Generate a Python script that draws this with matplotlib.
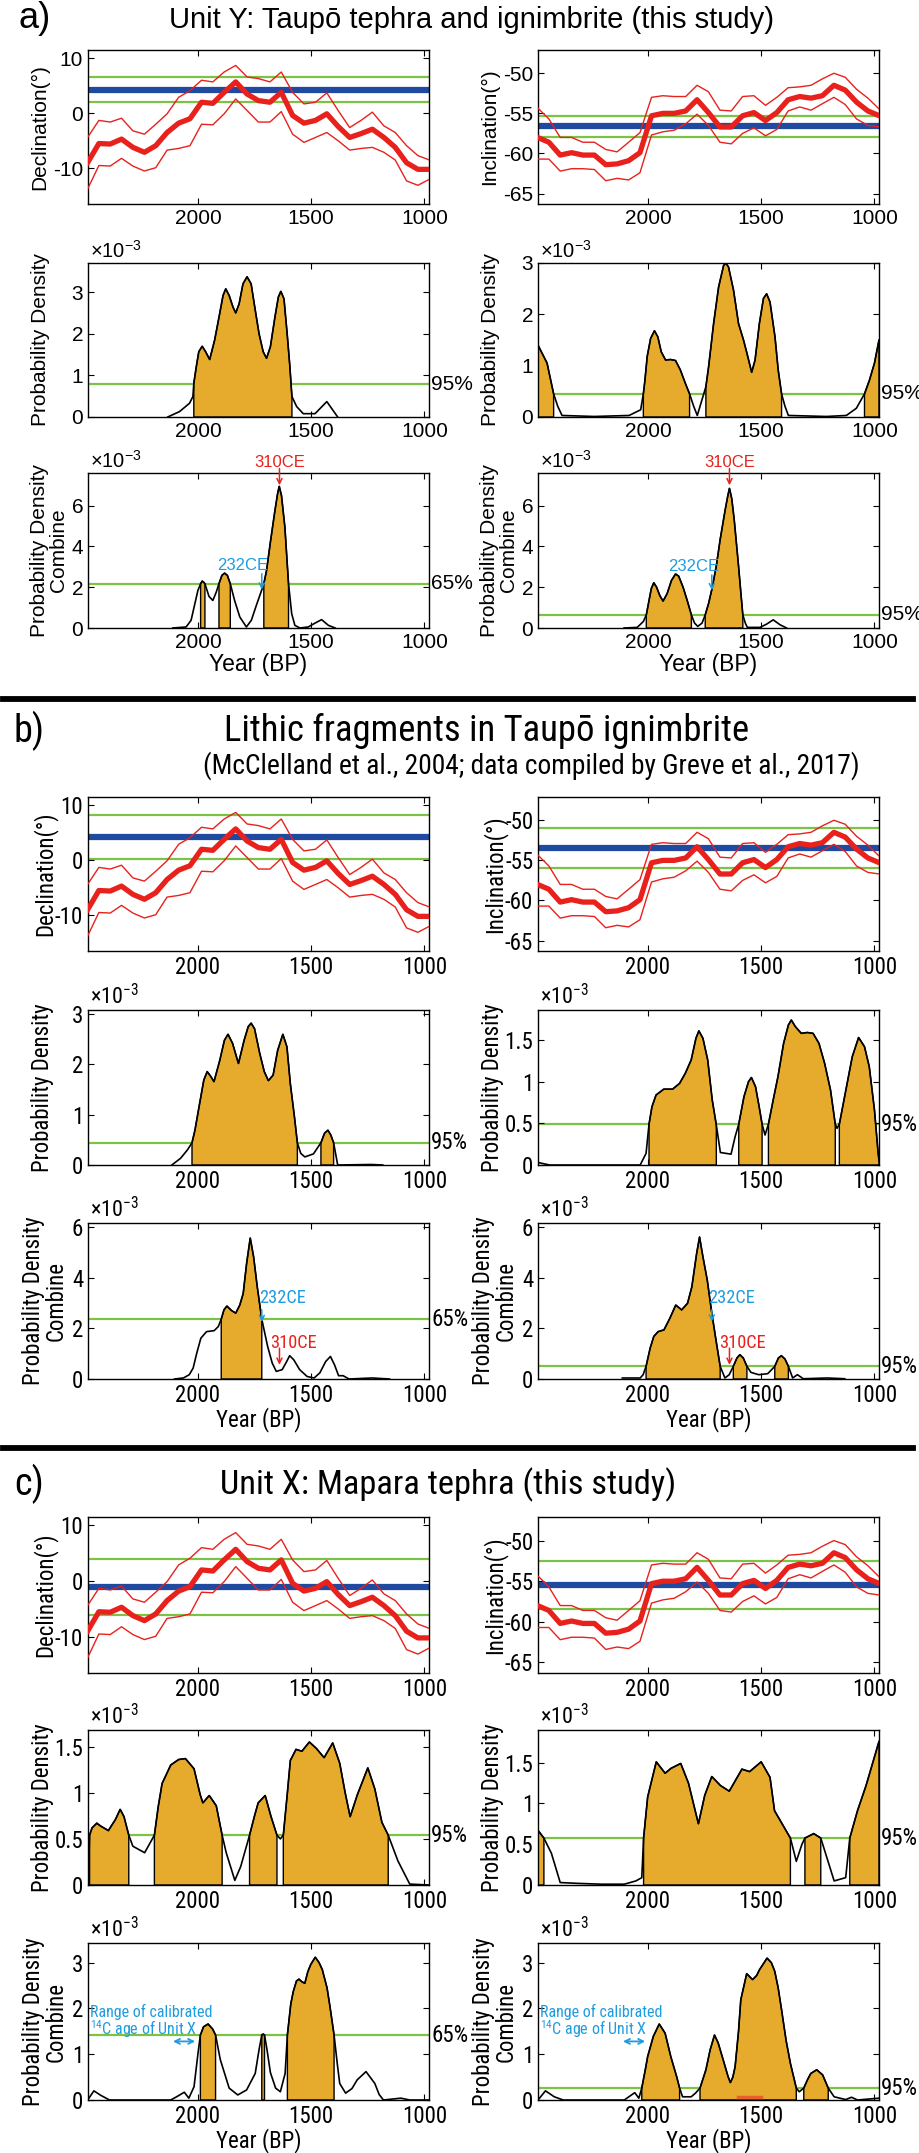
import numpy as np
import matplotlib
matplotlib.use("Agg")
import matplotlib.pyplot as plt
from matplotlib import font_manager
from matplotlib.font_manager import FontProperties
from matplotlib.lines import Line2D
from matplotlib.ticker import FuncFormatter

plt.rcParams["axes.unicode_minus"] = False

# ---------------- data ----------------
# geomagnetic reference curve (same in a, b, c)
geo_years = [2487, 2437, 2387, 2337, 2287, 2236, 2186, 2136, 2085, 2035, 1984,
             1934, 1884, 1833, 1783, 1733, 1682, 1632, 1582, 1532, 1481, 1431,
             1381, 1330, 1280, 1230, 1179, 1129, 1079, 1029, 978]
dec_mid = [-9.0, -5.5, -5.6, -4.7, -6.2, -7.1, -5.9, -3.5, -1.8, -1.0, 2.0, 1.8,
           3.8, 5.7, 3.5, 2.3, 2.0, 3.8, -0.4, -1.8, -1.3, -0.1, -2.4, -4.4,
           -3.7, -2.9, -4.4, -6.2, -9.0, -10.2, -10.2]
dec_hi = [-4.4, -1.3, -1.6, -0.9, -3.2, -3.8, -2.0, -0.1, 2.9, 4.1, 6.0, 5.7, 7.5,
          8.7, 6.6, 6.3, 5.7, 7.5, 3.8, 1.7, 2.0, 3.7, 0.5, -2.6, -1.3, 0.2,
          -2.3, -3.5, -5.9, -7.7, -8.5]
dec_lo = [-13.8, -9.5, -9.6, -8.2, -9.6, -10.5, -9.9, -6.7, -6.4, -5.9, -2.0,
          -2.1, -0.1, 2.6, 0.5, -1.6, -1.6, 0.3, -3.8, -5.3, -4.4, -3.5, -5.0,
          -6.7, -6.4, -6.2, -7.1, -8.5, -12.3, -13.1, -12.0]
inc_mid = [-58.0, -58.6, -60.2, -59.9, -60.2, -60.2, -61.4, -61.3, -60.9, -59.9,
           -55.3, -55.0, -55.0, -54.7, -53.3, -54.9, -56.7, -56.7, -55.3, -54.9,
           -55.9, -54.9, -53.3, -52.9, -53.1, -52.8, -51.5, -52.1, -53.6, -54.7,
           -55.3]
inc_hi = [-54.3, -55.7, -58.0, -58.0, -58.6, -58.6, -59.5, -59.8, -58.6, -57.4,
          -53.0, -52.8, -52.9, -52.9, -51.5, -52.3, -54.6, -54.7, -52.9, -52.8,
          -54.0, -53.0, -51.8, -51.7, -51.5, -50.7, -50.0, -50.5, -52.0, -53.1,
          -54.5]
inc_lo = [-60.7, -60.7, -62.2, -61.9, -61.9, -62.0, -63.4, -63.1, -63.3, -62.4,
          -57.7, -57.3, -57.1, -56.3, -55.1, -56.5, -58.6, -58.8, -57.5, -56.8,
          -57.8, -57.0, -54.7, -54.2, -54.6, -53.8, -53.0, -53.9, -55.7, -56.5,
          -56.7]

# site means (mean, half width of the green band)
a_dec_site = (4.3, 2.3)
a_inc_site = (-56.6, 1.3)
b_dec_site = (4.2, 4.0)
b_inc_site = (-53.5, 2.5)
c_dec_site = (-1.1, 5.05)
c_inc_site = (-55.5, 2.95)

# probability densities (year BP, density x1e-3), gold spans, threshold
a_dec_pd = [(2133, 0), (2081, 0.13), (2037, 0.33), (2022, 0.49), (2018, 0.81),
            (2007, 1.21), (1996, 1.57), (1981, 1.70), (1966, 1.57), (1948, 1.38),
            (1926, 1.85), (1904, 2.48), (1889, 2.92), (1877, 3.08), (1862, 2.92),
            (1845, 2.64), (1833, 2.50), (1818, 2.72), (1801, 3.20), (1783, 3.37),
            (1765, 3.20), (1749, 2.64), (1730, 2.00), (1712, 1.57), (1697, 1.41),
            (1680, 1.69), (1660, 2.40), (1645, 2.88), (1634, 3.02), (1620, 2.84),
            (1606, 2.00), (1594, 1.21), (1585, 0.49), (1564, 0.25), (1535, 0.08),
            (1483, 0.08), (1431, 0.37), (1383, 0)]
a_dec_span = [(2018, 1585)]
a_dec_thr = 0.79

a_inc_pd = [(2485, 1.40), (2445, 1.05), (2416, 0.45), (2398, 0.21), (2379, 0.03),
            (2237, 0.01), (2083, 0.03), (2032, 0.14), (2020, 0.45), (2013, 0.72),
            (2003, 1.18), (1988, 1.53), (1971, 1.68), (1956, 1.56), (1941, 1.27),
            (1922, 1.11), (1900, 1.12), (1878, 1.10), (1857, 0.92), (1835, 0.66),
            (1816, 0.45), (1798, 0.21), (1782, 0.03), (1761, 0.34), (1744, 0.59),
            (1732, 0.98), (1710, 1.82), (1688, 2.53), (1666, 2.95), (1656, 3.00),
            (1644, 2.92), (1622, 2.47), (1600, 1.82), (1578, 1.50), (1561, 1.21),
            (1542, 0.87), (1527, 1.11), (1508, 1.82), (1490, 2.31), (1476, 2.40),
            (1461, 2.24), (1439, 1.56), (1425, 0.92), (1410, 0.45), (1395, 0.21),
            (1380, 0.03), (1212, 0.01), (1124, 0.03), (1080, 0.17), (1044, 0.45),
            (1022, 0.72), (1000, 1.05), (980, 1.50)]
a_inc_span = [(2485, 2416), (2020, 1816), (1744, 1410), (1044, 980)]
a_inc_thr = 0.45

a_c65_pd = [(2111, 0), (2052, 0.05), (2030, 0.38), (2015, 1.11), (2000, 1.84),
            (1988, 2.17), (1981, 2.30), (1974, 2.24), (1969, 2.17), (1951, 1.55),
            (1934, 1.35), (1919, 1.76), (1907, 2.17), (1894, 2.58), (1882, 2.69),
            (1870, 2.58), (1857, 2.17), (1838, 1.35), (1815, 0.54), (1786, 0.05),
            (1764, 0.38), (1742, 1.11), (1719, 1.84), (1709, 2.17), (1697, 2.82),
            (1679, 4.29), (1660, 5.76), (1648, 6.60), (1641, 6.95), (1631, 6.49),
            (1616, 4.94), (1600, 2.17), (1586, 0.70), (1572, 0.13), (1550, 0),
            (1513, 0.05), (1483, 0.24), (1454, 0.41), (1424, 0.13), (1394, 0)]
a_c65_span = [(1988, 1969), (1907, 1857), (1709, 1600)]
a_c65_thr = 2.17

a_c95_pd = [(2105, 0), (2047, 0.03), (2020, 0.32), (2007, 0.64), (1996, 1.29),
            (1985, 1.93), (1974, 2.22), (1962, 2.01), (1947, 1.58), (1933, 1.32),
            (1915, 1.69), (1896, 2.33), (1878, 2.65), (1864, 2.54), (1845, 2.01),
            (1827, 1.37), (1808, 0.64), (1794, 0.24), (1780, 0.08), (1761, 0.24),
            (1747, 0.64), (1732, 1.21), (1717, 1.93), (1698, 3.05), (1681, 4.34),
            (1659, 5.79), (1647, 6.50), (1640, 6.85), (1630, 6.35), (1619, 5.31),
            (1600, 3.05), (1590, 1.77), (1581, 0.64), (1570, 0.24), (1561, 0.03),
            (1505, 0.03), (1476, 0.19), (1447, 0.40), (1417, 0.16), (1388, 0)]
a_c95_span = [(2007, 1808), (1747, 1581)]
a_c95_thr = 0.64

b_dec_pd = [(2115, 0), (2077, 0.13), (2046, 0.30), (2026, 0.44), (2013, 0.69),
            (1995, 1.15), (1974, 1.68), (1959, 1.85), (1944, 1.76), (1929, 1.65),
            (1903, 2.08), (1883, 2.47), (1867, 2.59), (1847, 2.41), (1821, 2.01),
            (1796, 2.47), (1778, 2.74), (1765, 2.81), (1750, 2.70), (1727, 2.21),
            (1707, 1.85), (1689, 1.67), (1668, 1.78), (1648, 2.27), (1625, 2.59),
            (1607, 2.34), (1592, 1.61), (1574, 0.96), (1561, 0.44), (1546, 0.23),
            (1528, 0.16), (1490, 0.22), (1457, 0.44), (1441, 0.63), (1426, 0.69),
            (1413, 0.59), (1401, 0.44), (1383, 0), (1235, 0.01), (1184, 0)]
b_dec_span = [(2026, 1561), (1457, 1401)]
b_dec_thr = 0.44

b_inc_pd = [(2485, 0.03), (2434, 0), (2034, 0), (2008, 0.14), (1995, 0.49),
            (1982, 0.70), (1964, 0.84), (1930, 0.91), (1891, 0.91), (1860, 0.98),
            (1835, 1.10), (1809, 1.26), (1788, 1.52), (1775, 1.61), (1757, 1.52),
            (1736, 1.26), (1716, 0.78), (1698, 0.48), (1680, 0.15), (1633, 0.13),
            (1615, 0.34), (1599, 0.49), (1576, 0.82), (1556, 1.00), (1543, 1.05),
            (1525, 0.94), (1509, 0.70), (1496, 0.49), (1483, 0.36), (1468, 0.49),
            (1447, 0.78), (1426, 1.06), (1401, 1.46), (1380, 1.68), (1367, 1.74),
            (1349, 1.66), (1323, 1.58), (1297, 1.59), (1271, 1.58), (1245, 1.46),
            (1220, 1.22), (1194, 0.90), (1173, 0.49), (1165, 0.44), (1155, 0.49),
            (1129, 0.86), (1098, 1.30), (1070, 1.53), (1044, 1.42), (1023, 1.18),
            (1000, 0.66), (985, 0.18), (980, 0.05)]
b_inc_span = [(1995, 1698), (1599, 1496), (1468, 1173), (1155, 980)]
b_inc_thr = 0.49

b_c65_pd = [(2103, 0), (2064, 0.04), (2038, 0.17), (2021, 0.43), (2005, 1.02),
            (1987, 1.61), (1962, 1.87), (1928, 1.91), (1910, 2.07), (1897, 2.36),
            (1885, 2.73), (1872, 2.88), (1851, 2.70), (1833, 2.60), (1815, 2.92),
            (1800, 3.38), (1785, 4.56), (1769, 5.57), (1754, 4.82), (1738, 3.64),
            (1718, 2.36), (1692, 1.28), (1672, 0.63), (1654, 0.30), (1628, 0.37),
            (1610, 0.66), (1595, 0.92), (1577, 0.76), (1551, 0.37), (1518, 0.10),
            (1487, 0.04), (1462, 0.24), (1436, 0.69), (1415, 0.89), (1397, 0.56),
            (1379, 0.13), (1359, 0.13), (1333, 0), (1231, 0.04), (1154, 0)]
b_c65_span = [(1897, 1718)]
b_c65_thr = 2.36

b_c95_pd = [(2113, 0.04), (2034, 0.04), (2021, 0.17), (2008, 0.50), (1990, 1.22),
            (1974, 1.68), (1955, 1.87), (1929, 1.94), (1903, 2.40), (1877, 2.92),
            (1851, 2.73), (1825, 2.99), (1806, 3.64), (1785, 4.95), (1772, 5.61),
            (1757, 4.82), (1738, 3.91), (1720, 2.73), (1702, 1.68), (1681, 0.50),
            (1660, 0.04), (1641, 0.17), (1623, 0.50), (1607, 0.83), (1594, 0.96),
            (1579, 0.83), (1563, 0.50), (1545, 0.26), (1511, 0.17), (1471, 0.21),
            (1440, 0.50), (1424, 0.83), (1411, 0.92), (1395, 0.79), (1380, 0.50),
            (1361, 0.04), (1340, 0.17), (1314, 0.01), (1209, 0.04), (1131, 0.01)]
b_c95_span = [(2008, 1681), (1623, 1563), (1440, 1380)]
b_c95_thr = 0.50

c_dec_pd = [(2485, 0), (2478, 0.54), (2467, 0.62), (2446, 0.67), (2430, 0.64),
            (2416, 0.62), (2395, 0.59), (2364, 0.71), (2343, 0.82), (2326, 0.74),
            (2305, 0.54), (2287, 0.42), (2235, 0.35), (2192, 0.54), (2175, 0.85),
            (2158, 1.10), (2120, 1.30), (2085, 1.36), (2055, 1.37), (2017, 1.26),
            (1990, 0.98), (1978, 0.89), (1950, 0.97), (1919, 0.86), (1893, 0.54),
            (1875, 0.35), (1837, 0.05), (1811, 0.20), (1772, 0.54), (1750, 0.75),
            (1734, 0.89), (1703, 0.97), (1677, 0.74), (1651, 0.54), (1636, 0.50),
            (1623, 0.54), (1605, 1.00), (1592, 1.35), (1567, 1.47), (1541, 1.45),
            (1508, 1.55), (1477, 1.48), (1443, 1.38), (1405, 1.54), (1374, 1.32),
            (1350, 1.00), (1328, 0.74), (1296, 0.98), (1250, 1.27), (1219, 1.04),
            (1188, 0.68), (1160, 0.54), (1117, 0.26), (1065, 0.01), (980, 0)]
c_dec_span = [(2478, 2305), (2192, 1893), (1772, 1651), (1623, 1160)]
c_dec_thr = 0.54

c_inc_pd = [(2485, 0.67), (2459, 0.575), (2426, 0.39), (2387, 0.03), (2310, 0.02),
            (2207, 0.01), (2104, 0.01), (2053, 0.05), (2027, 0.09), (2019, 0.575),
            (2001, 1.08), (1963, 1.51), (1924, 1.37), (1898, 1.43), (1855, 1.49),
            (1821, 1.25), (1777, 0.75), (1749, 1.10), (1718, 1.33), (1680, 1.22),
            (1641, 1.15), (1585, 1.42), (1551, 1.39), (1500, 1.51), (1461, 1.32),
            (1441, 0.91), (1371, 0.575), (1345, 0.29), (1320, 0.50), (1307, 0.575),
            (1268, 0.63), (1237, 0.575), (1178, 0.05), (1127, 0.09), (1109, 0.575),
            (1075, 0.91), (1037, 1.22), (980, 1.76)]
c_inc_span = [(2485, 2459), (2019, 1371), (1307, 1237), (1109, 980)]
c_inc_thr = 0.575

c_c65_pd = [(2485, 0.01), (2459, 0.2), (2428, 0.1), (2390, 0), (2120, 0),
            (2094, 0.07), (2060, 0.17), (2040, 0.04), (2017, 0.29), (2000, 1.0),
            (1989, 1.42), (1975, 1.60), (1955, 1.66), (1935, 1.55), (1922, 1.42),
            (1901, 0.88), (1862, 0.26), (1824, 0.11), (1785, 0.22), (1747, 0.58),
            (1730, 1.10), (1718, 1.42), (1712, 1.44), (1706, 1.42), (1695, 1.10),
            (1680, 0.60), (1657, 0.26), (1636, 0.18), (1615, 0.58), (1605, 1.42),
            (1590, 2.10), (1579, 2.37), (1565, 2.60), (1554, 2.64), (1540, 2.58),
            (1528, 2.55), (1515, 2.80), (1502, 2.96), (1482, 3.12), (1465, 3.00),
            (1451, 2.85), (1430, 2.45), (1417, 2.04), (1399, 1.42), (1385, 0.80),
            (1374, 0.36), (1348, 0.15), (1320, 0.25), (1297, 0.44), (1258, 0.62),
            (1219, 0.36), (1200, 0.12), (1181, 0), (1104, 0.04), (1065, 0), (980, 0)]
c_c65_span = [(1989, 1922), (1718, 1706), (1605, 1399)]
c_c65_thr = 1.42

c_c95_pd = [(2485, 0), (2452, 0.2), (2413, 0.07), (2374, 0), (2104, 0),
            (2084, 0.07), (2058, 0.16), (2040, 0.04), (2027, 0.26), (2010, 0.70),
            (2001, 0.95), (1976, 1.39), (1950, 1.66), (1924, 1.46), (1899, 0.95),
            (1873, 0.51), (1860, 0.26), (1847, 0.07), (1809, 0.07), (1790, 0.15),
            (1770, 0.26), (1744, 0.66), (1725, 1.10), (1706, 1.42), (1690, 1.25),
            (1672, 0.95), (1646, 0.51), (1636, 0.38), (1625, 0.50), (1615, 0.73),
            (1600, 1.50), (1590, 2.19), (1564, 2.76), (1538, 2.63), (1520, 2.72),
            (1507, 2.85), (1474, 3.10), (1455, 3.00), (1440, 2.81), (1425, 2.45),
            (1410, 1.97), (1390, 1.30), (1371, 0.80), (1345, 0.26), (1332, 0.18),
            (1312, 0.26), (1295, 0.45), (1281, 0.58), (1255, 0.66), (1229, 0.55),
            (1204, 0.26), (1178, 0.07), (1127, 0.01), (1101, 0.06), (1075, 0), (980, 0.04)]
c_c95_span = [(2027, 1860), (1770, 1345), (1312, 1204)]
c_c95_thr = 0.26

age_232ce = 1718   # 232 CE in years BP
age_310ce = 1640   # 310 CE in years BP
unitx_c14 = (2110, 2012)
orange_bar = (1603, 1500)

# ---------------- style ----------------
RED = "#e8211c"
BLUE = "#1f4aa0"
GREEN = "#7cc243"
GOLD = "#e6ab2d"
CYAN = "#1d9ce0"
ORANGE = "#e8612c"
REG = "Liberation Sans"


def narrow_file():
    fl = font_manager.fontManager.ttflist
    for want in ["Liberation Sans Narrow", "Arial Narrow", "Roboto Condensed"]:
        for f in fl:
            if f.name == want and f.style == "normal" and f.weight in (400, "normal", "regular"):
                return f.fname
    for f in fl:
        n = f.fname
        if "Condensed" in n and "Sans" in n and not any(k in n for k in ("Bold", "Oblique", "Italic", "Light")):
            return n
    return None


NARROW = narrow_file()


def fa(size):
    return FontProperties(family=REG, size=size)


def fn(size):
    size = size * 1.1
    if NARROW:
        return FontProperties(fname=NARROW, size=size)
    return FontProperties(family=REG, size=size)


W, H = 919, 2153
fig = plt.figure(figsize=(W / 100, H / 100), dpi=100)
COLX = [88, 538]
AXW = 341


def add_ax(col, top, bot):
    return fig.add_axes([COLX[col] / W, 1 - bot / H, AXW / W, (bot - top) / H])


def frame(ax, ylim, yticks, fp):
    ax.set_xlim(2485, 980)
    ax.set_ylim(*ylim)
    ax.set_xticks([2000, 1500, 1000])
    ax.set_yticks(yticks)
    ax.yaxis.set_major_formatter(FuncFormatter(lambda v, p: f"{v:g}"))
    ax.tick_params(direction="in", top=True, right=True, length=4, width=0.8, pad=3.5)
    for lab in ax.get_xticklabels() + ax.get_yticklabels():
        lab.set_fontproperties(fp(15))
    for s in ax.spines.values():
        s.set_linewidth(1.0)


def geo_panel(ax, mid, hi, lo, site, ylim, yticks, ylabel, fp, lx):
    mean, half = site
    ax.axhline(mean + half, color=GREEN, lw=1.6, zorder=1)
    ax.axhline(mean - half, color=GREEN, lw=1.6, zorder=1)
    ax.axhline(mean, color=BLUE, lw=4.5, zorder=2)
    ax.plot(geo_years, hi, color=RED, lw=1.0, zorder=3)
    ax.plot(geo_years, lo, color=RED, lw=1.0, zorder=3)
    ax.plot(geo_years, mid, color=RED, lw=3.8, zorder=3)
    frame(ax, ylim, yticks, fp)
    ax.set_ylabel(ylabel, fontproperties=fp(15))
    ax.yaxis.set_label_coords(lx, 0.5)


def pd_panel(ax, pts, spans, thr, pct, ylim, yticks, ylabel, fp, lx):
    yr = np.array([p[0] for p in pts], float)
    val = np.array([p[1] for p in pts], float)
    o = np.argsort(yr)
    ax.axhline(thr, color=GREEN, lw=1.6, zorder=1)
    for old, young in spans:
        m = (yr < old) & (yr > young)
        xs = np.r_[old, yr[m], young]
        ys = np.r_[np.interp(old, yr[o], val[o]), val[m], np.interp(young, yr[o], val[o])]
        ax.fill(np.r_[xs, young, old], np.r_[ys, 0, 0], facecolor=GOLD,
                edgecolor="black", lw=1.0, zorder=2)
    ax.plot(yr, val, color="black", lw=1.2, zorder=3)
    frame(ax, ylim, yticks, fp)
    ax.text(1.006, thr, pct, transform=ax.get_yaxis_transform(), ha="left",
            va="center", fontproperties=fp(15))
    ax.text(0.005, 1.006, "×10$^{\\mathregular{-3}}$", transform=ax.transAxes,
            ha="left", va="bottom", fontproperties=fp(14.5))
    ax.set_ylabel(ylabel, fontproperties=fp(15), linespacing=0.95)
    ax.yaxis.set_label_coords(lx, 0.5)


def arrow(ax, x, y0, y1, color):
    ax.annotate("", xy=(x, y1), xytext=(x, y0), annotation_clip=False,
                arrowprops=dict(arrowstyle="->", color=color, lw=1.1,
                                shrinkA=0, shrinkB=0, mutation_scale=9))


def label(ax, x, y, s, color, ha, fp, size=12):
    ax.text(x, y, s, color=color, ha=ha, va="center", fontproperties=fp(size),
            clip_on=False)


def sep(y):
    fig.add_artist(Line2D([3 / W, 913 / W], [1 - y / H] * 2, color="black", lw=4.2))


def section(rows, fp, dec_site, inc_site, pds, lxs, xl_size):
    (t1, b1), (t2, b2), (t3, b3) = rows
    ax = add_ax(0, t1, b1)
    geo_panel(ax, dec_mid, dec_hi, dec_lo, dec_site, (-16.5, 11.5), [-10, 0, 10],
              "Declination(°)", fp, lxs[0])
    ax = add_ax(1, t1, b1)
    geo_panel(ax, inc_mid, inc_hi, inc_lo, inc_site, (-66.3, -47.1),
              [-65, -60, -55, -50], "Inclination(°)", fp, lxs[0])
    axes = []
    for i, (pts, spans, thr, pct, ylim, yt) in enumerate(pds):
        row = i // 2
        col = i % 2
        t, b = (t2, b2) if row == 0 else (t3, b3)
        ax = add_ax(col, t, b)
        yl = "Probability Density" if row == 0 else "Probability Density\nCombine"
        pd_panel(ax, pts, spans, thr, pct, ylim, yt, yl, fp, lxs[1 + row])
        if row == 1:
            ax.set_xlabel("Year (BP)", fontproperties=fp(xl_size), labelpad=0.5)
        axes.append(ax)
    return axes


# ---------------- section a ----------------
fig.text(18 / W, 1 - 19 / H, "a)", fontproperties=fa(26), va="center", ha="left")
fig.text(471 / W, 1 - 20 / H, "Unit Y: Taupō tephra and ignimbrite (this study)",
         fontproperties=fa(21), va="center", ha="center")
ax_a = section([(50, 204), (263, 417), (473, 628)], fa, a_dec_site, a_inc_site,
               [(a_dec_pd, a_dec_span, a_dec_thr, "95%", (0, 3.7), [0, 1, 2, 3]),
                (a_inc_pd, a_inc_span, a_inc_thr, "95%", (0, 3.0), [0, 1, 2, 3]),
                (a_c65_pd, a_c65_span, a_c65_thr, "65%", (0, 7.6), [0, 2, 4, 6]),
                (a_c95_pd, a_c95_span, a_c95_thr, "95%", (0, 7.6), [0, 2, 4, 6])],
               [-0.115, -0.11, -0.06], 16.5)
for ax in ax_a[2:]:
    arrow(ax, age_310ce, 7.82, 7.0, RED)
    label(ax, age_310ce, 8.12, "310CE", RED, "center", fa)
arrow(ax_a[2], age_232ce, 2.66, 1.88, CYAN)
label(ax_a[2], 1801, 3.07, "232CE", CYAN, "center", fa)
arrow(ax_a[3], age_232ce, 2.6, 1.85, CYAN)
label(ax_a[3], 1799, 3.02, "232CE", CYAN, "center", fa)
sep(699)

# ---------------- section b ----------------
fig.text(14 / W, 1 - 731 / H, "b)", fontproperties=fn(25), va="center", ha="left")
fig.text(224 / W, 1 - 731 / H, "Lithic fragments in Taupō ignimbrite",
         fontproperties=fn(24), va="center", ha="left")
fig.text(203 / W, 1 - 766 / H,
         "(McClelland et al., 2004; data compiled by Greve et al., 2017)",
         fontproperties=fn(18), va="center", ha="left")
ax_b = section([(797, 951), (1010, 1165), (1223, 1379)], fn, b_dec_site, b_inc_site,
               [(b_dec_pd, b_dec_span, b_dec_thr, "95%", (0, 3.07), [0, 1, 2, 3]),
                (b_inc_pd, b_inc_span, b_inc_thr, "95%", (0, 1.86), [0, 0.5, 1, 1.5]),
                (b_c65_pd, b_c65_span, b_c65_thr, "65%", (0, 6.16), [0, 2, 4, 6]),
                (b_c95_pd, b_c95_span, b_c95_thr, "95%", (0, 6.16), [0, 2, 4, 6])],
               [-0.09, -0.1, -0.06], 15)
arrow(ax_b[2], age_232ce, 2.73, 2.25, CYAN)
label(ax_b[2], 1730, 3.18, "232CE", CYAN, "left", fn)
arrow(ax_b[2], age_310ce, 1.22, 0.56, RED)
label(ax_b[2], 1681, 1.42, "310CE", RED, "left", fn)
arrow(ax_b[3], age_232ce, 2.73, 2.27, CYAN)
label(ax_b[3], 1733, 3.18, "232CE", CYAN, "left", fn)
arrow(ax_b[3], age_310ce, 1.22, 0.56, RED)
label(ax_b[3], 1686, 1.42, "310CE", RED, "left", fn)
sep(1448)

# ---------------- section c ----------------
fig.text(14 / W, 1 - 1484 / H, "c)", fontproperties=fn(25), va="center", ha="left")
fig.text(220 / W, 1 - 1485 / H, "Unit X: Mapara tephra (this study)",
         fontproperties=fn(22.5), va="center", ha="left")
ax_c = section([(1517, 1673), (1730, 1885), (1943, 2100)], fn, c_dec_site, c_inc_site,
               [(c_dec_pd, c_dec_span, c_dec_thr, "95%", (0, 1.68), [0, 0.5, 1, 1.5]),
                (c_inc_pd, c_inc_span, c_inc_thr, "95%", (0, 1.9), [0, 0.5, 1, 1.5]),
                (c_c65_pd, c_c65_span, c_c65_thr, "65%", (0, 3.43), [0, 1, 2, 3]),
                (c_c95_pd, c_c95_span, c_c95_thr, "95%", (0, 3.43), [0, 1, 2, 3])],
               [-0.09, -0.1, -0.06], 15)
for ax in ax_c[2:]:
    label(ax, 2478, 1.93, "Range of calibrated", CYAN, "left", fn, 10.5)
    label(ax, 2478, 1.55, "$^{\\mathregular{14}}$C age of Unit X", CYAN, "left", fn, 10.5)
    ax.annotate("", xy=(unitx_c14[1], 1.28), xytext=(unitx_c14[0], 1.28),
                arrowprops=dict(arrowstyle="<->", color=CYAN, lw=1.3,
                                shrinkA=0, shrinkB=0, mutation_scale=9))
ax_c[3].plot(orange_bar, [0.06, 0.06], color=ORANGE, lw=2.5, zorder=4)

fig.savefig("out.png", dpi=100)
